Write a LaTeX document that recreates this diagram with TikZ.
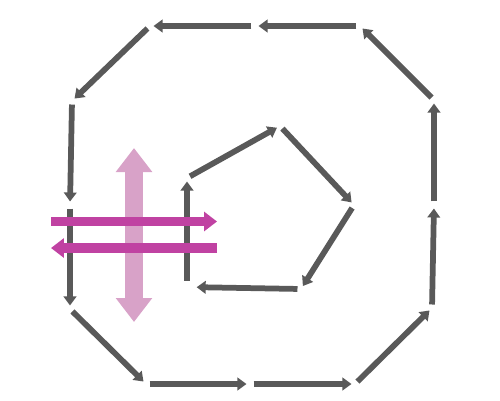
\documentclass[tikz,border=0pt]{standalone}
\usetikzlibrary{arrows.meta}
\definecolor{cycleGray}{RGB}{89,89,89}
\definecolor{fluxPink}{RGB}{216,162,200}
\definecolor{fluxMagenta}{RGB}{192,66,162}

\begin{document}
\begin{tikzpicture}[x=0.02cm,y=-0.02cm]
\tikzstyle{cyc} = [draw=cycleGray, line width=0.115cm, -{Triangle[width=0.25cm,length=0.18cm]}, shorten <=2pt, shorten >=2pt]
\tikzstyle{flux} = [draw=fluxMagenta, line width=0.19cm, -{Triangle[width=0.38cm,length=0.26cm]}]

\useasboundingbox (0,0) rectangle (500,400);

% outer cycle
\coordinate (o1) at (360,26);
\coordinate (o2) at (255,26);
\coordinate (o3) at (150,26);
\coordinate (o4) at (72,101);
\coordinate (o5) at (70,205);
\coordinate (o6) at (70,309);
\coordinate (o7) at (146,384);
\coordinate (o8) at (250,384);
\coordinate (o9) at (355,384);
\coordinate (o10) at (432,308);
\coordinate (o11) at (434,205);
\coordinate (o12) at (434,100);

% inner cycle
\coordinate (p1) at (187,178);
\coordinate (p2) at (280,126);
\coordinate (p3) at (354,205);
\coordinate (p4) at (301,289);
\coordinate (p5) at (187,287);

% crossing fluxes
\coordinate (fr0) at (51,221.5);
\coordinate (fr1) at (217,221.5);
\coordinate (fl0) at (217,248);
\coordinate (fl1) at (51,248);
\coordinate (v0) at (134,148);
\coordinate (v1) at (134,322);

\draw[fluxPink, line width=0.37cm, {Triangle[width=0.7cm,length=0.48cm]}-{Triangle[width=0.7cm,length=0.48cm]}] (v0) -- (v1);

\draw[cyc] (o1) -- (o2);
\draw[cyc] (o2) -- (o3);
\draw[cyc] (o3) -- (o4);
\draw[cyc] (o4) -- (o5);
\draw[cyc] (o5) -- (o6);
\draw[cyc] (o6) -- (o7);
\draw[cyc] (o7) -- (o8);
\draw[cyc] (o8) -- (o9);
\draw[cyc] (o9) -- (o10);
\draw[cyc] (o10) -- (o11);
\draw[cyc] (o11) -- (o12);
\draw[cyc] (o12) -- (o1);

\draw[cyc, shorten <=3.5pt] (p5) -- (p1);
\draw[cyc] (p1) -- (p2);
\draw[cyc] (p2) -- (p3);
\draw[cyc] (p3) -- (p4);
\draw[cyc, shorten >=5.5pt] (p4) -- (p5);

\draw[flux] (fr0) -- (fr1);
\draw[flux] (fl0) -- (fl1);

\end{tikzpicture}
\end{document}
